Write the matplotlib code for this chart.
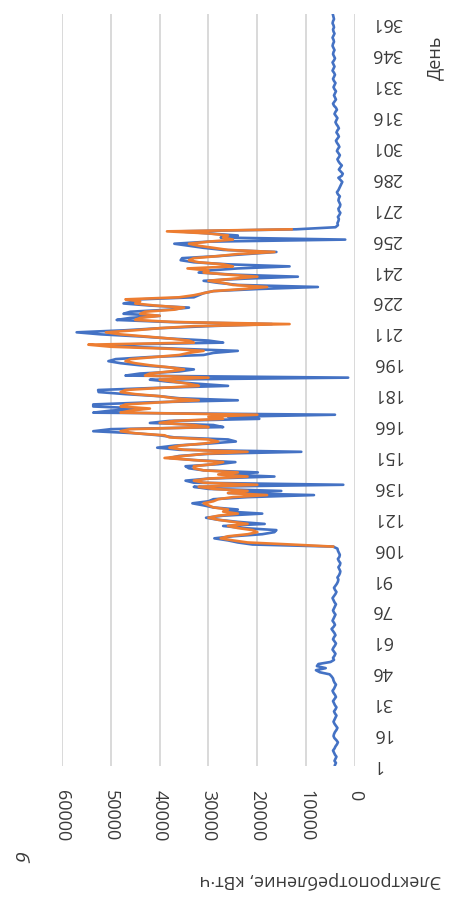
import matplotlib
matplotlib.use('Agg')
import matplotlib.pyplot as plt
import numpy as np

plt.rcParams['font.family'] = ['Open Sans', 'DejaVu Sans']

BLUE = '#4472C4'
ORANGE = '#ED7D31'
GRID = '#d9d9d9'
TEXT = '#3a3a3a'

# daily consumption, kWh (blue series = whole year)
blue_early = [  # days 1-105
    4100, 3900, 4200, 4000, 3800, 4100, 4300, 4500, 4200, 4000,
    3700, 3500, 3800, 4200, 4400, 4300, 4100, 3800, 3600, 3900,
    4200, 4400, 4200, 4000, 3800, 4100, 4300, 4000, 3800, 4100,
    4300, 4500, 4200, 3900, 4100, 4400, 4600, 4300, 4100, 3900,
    4200, 4400, 4500, 4800, 5200, 7200, 8000, 6000, 7800, 7500,
    5000, 4300, 4500, 4200, 4000, 4300, 4600, 4400, 4100, 3900,
    4200, 4500, 4300, 4000, 4200, 4500, 4800, 4400, 4100, 4300,
    4600, 4400, 4200, 4000, 4300, 4500, 4300, 4100, 3900, 4200,
    4400, 4600, 4300, 4000, 3800, 4100, 4300, 4000, 3700, 3500,
    3400, 3600, 3300, 3100, 3000, 3200, 3400, 3100, 3000, 3300,
    3500, 3200, 3100, 3300, 3500,
]
blue_season = [  # days 106-263
    3600, 4500, 21000, 24000, 26000, 28800, 25000, 19000, 16500, 16100,
    23000, 27000, 18500, 24000, 28000, 30500, 27000, 19000, 26000, 24000,
    29000, 31000, 33300, 30000, 29000, 22000, 8400, 26000, 15100, 30000,
    33000, 2400, 33000, 34700, 30000, 16500, 27000, 19900, 31000, 34000,
    34700, 28000, 24500, 33000, 38000, 36000, 30000, 11000, 36000, 40500,
    37000, 30000, 24400, 26000, 37000, 40000, 45000, 53600, 50000, 27000,
    29000, 42000, 38000, 19600, 26000, 4100, 53600, 50000, 43000, 53600,
    53600, 42000, 24000, 36000, 40000, 47000, 52500, 52600, 41000, 26000,
    32000, 38000, 42000, 1400, 47000, 44000, 36000, 33000, 38000, 44000,
    48000, 50500, 49000, 42000, 31000, 29000, 24000, 36000, 46000, 50000,
    27000, 30000, 38000, 44000, 52000, 57000, 47000, 40000, 30000, 17000,
    38000, 48800, 46000, 40000, 47400, 46000, 38000, 34000, 42000, 47400,
    45000, 44000, 33000, 32000, 31000, 29000, 20000, 7600, 24000, 28000,
    31000, 23000, 11700, 25000, 32000, 30000, 24000, 13400, 26000, 33000,
    35700, 35400, 28000, 22000, 16100, 27000, 31000, 34000, 37000, 30000,
    2000, 27500, 24000, 30000, 36000, 12000, 4000, 3500,
]
blue_late = [  # days 264-365
    3600, 3400, 3300, 3500, 3200, 3000, 3300, 3400, 3100, 3000,
    3200, 3400, 3300, 3100, 3500, 3700, 3400, 3200, 3000, 2800,
    2600, 3000, 3400, 2700, 2500, 2900, 3300, 3000, 2700, 3100,
    3400, 3600, 3300, 3100, 3400, 3700, 3500, 3200, 3400, 3700,
    3900, 3600, 3300, 3500, 3800, 3600, 3300, 3500, 3800, 4000,
    3800, 3600, 3900, 4200, 4000, 3700, 3900, 4300, 4500, 4200,
    3900, 4100, 4300, 4100, 3900, 4200, 4400, 4200, 4000, 4300,
    4500, 4300, 4100, 4300, 4600, 4400, 4200, 4400, 4600, 4300,
    4100, 4300, 4500, 4400, 4200, 4400, 4600, 4500, 4300, 4400,
    4600, 4400, 4200, 4400, 4500, 4300, 4400, 4600, 4500, 4300,
    4400, 4500,
]
blue = blue_early + blue_season + blue_late
days = np.arange(1, len(blue) + 1)

# orange series only covers the active season
orange_start = 107
orange = [  # days 107-261
    4500, 13000, 22000, 25000, 27500, 26000, 22000, 20000, 21000, 24000,
    26000, 22000, 25000, 28000, 30000, 28000, 24000, 27000, 26000, 29000,
    30000, 31000, 29000, 28000, 25000, 18000, 26000, 22000, 29000, 32000,
    20000, 31000, 33000, 30000, 22000, 28000, 24000, 31000, 33000, 33000,
    29000, 27000, 33000, 39000, 35000, 31000, 22000, 35000, 38000, 36000,
    31000, 28000, 30000, 38000, 39000, 45000, 48000, 46000, 30000, 33000,
    40000, 37000, 27000, 30000, 20000, 48000, 46000, 42000, 48000, 47000,
    40000, 32000, 37000, 40000, 45000, 48000, 47000, 40000, 32000, 34000,
    37000, 40000, 30000, 43000, 42000, 38000, 35000, 38000, 42000, 45000,
    47000, 46000, 41000, 36000, 34000, 31000, 38000, 50000, 54600, 33000,
    34000, 38000, 43000, 48000, 51000, 45000, 40000, 33000, 13400, 37000,
    45000, 44000, 40000, 44000, 43000, 37000, 35000, 41000, 45000, 44000,
    47000, 36000, 33000, 31000, 29000, 23000, 18000, 25000, 27000, 30000,
    25000, 20000, 26000, 31000, 30000, 34300, 25000, 27000, 32000, 34000,
    33000, 28000, 24000, 16500, 26000, 29000, 32000, 34000, 30000, 25000,
    27000, 26000, 30000, 38500, 13000,
]
orange_days = np.arange(orange_start, orange_start + len(orange))

value_ticks = [0, 10000, 20000, 30000, 40000, 50000, 60000]
day_ticks = list(range(1, 366, 15))

W, H = 452, 900
fig = plt.figure(figsize=(W / 100, H / 100), dpi=100)
# chart is laid out turned on its side: value axis horizontal, days vertical
ax = fig.add_axes([62 / W, 1 - 766 / H, (355 - 62) / W, (766 - 14) / H])

ax.plot(blue, days, color=BLUE, lw=1.9, zorder=3)
ax.plot(orange, orange_days, color=ORANGE, lw=1.9, zorder=4)

ax.set_xlim(60000, 0)
ax.set_ylim(0.5, 365.5)
ax.set_xticks(value_ticks)
ax.set_xticklabels([str(v) for v in value_ticks], rotation=270, va='top',
                   ha='center', fontsize=13, color=TEXT)
ax.set_yticks(day_ticks)
ax.yaxis.tick_right()
ax.set_yticklabels([str(d) for d in day_ticks], rotation=180, ha='left',
                   va='center', fontsize=13, color=TEXT)
ax.tick_params(axis='x', length=0, pad=17)
ax.tick_params(axis='y', length=0, pad=12)
ax.grid(axis='x', color=GRID, lw=1.4, zorder=0)
ax.grid(axis='y', visible=False)
for s in ax.spines.values():
    s.set_visible(False)

fig.text(320 / W, 1 - 880 / H, 'Электропотребление, кВт·ч', rotation=180,
         ha='center', va='center', fontsize=13, color=TEXT)
fig.text(435 / W, 1 - 58 / H, 'День', rotation=90,
         ha='center', va='center', fontsize=13, color=TEXT)
fig.text(19 / W, 1 - 856 / H, 'б', rotation=270, style='italic',
         ha='center', va='center', fontsize=14, color=TEXT)

fig.savefig('out.png', dpi=100, facecolor='white')
